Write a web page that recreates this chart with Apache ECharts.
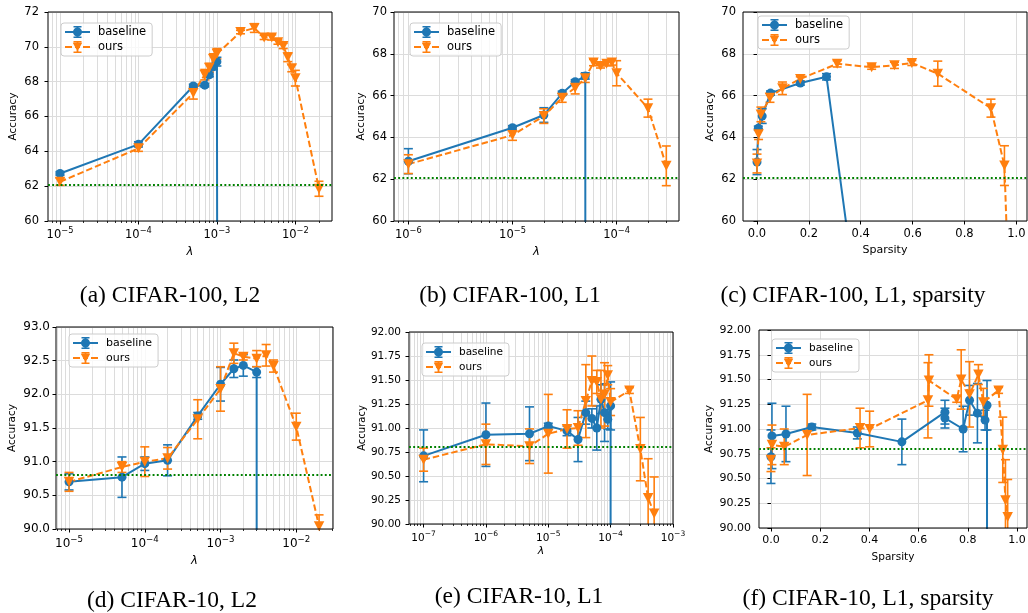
<!DOCTYPE html>
<html><head><meta charset="utf-8">
<script src="https://cdn.jsdelivr.net/npm/echarts@6/dist/echarts.min.js"></script>
<style>html,body{margin:0;padding:0;background:#fff}#chart{width:1028px;height:613px}</style>
</head><body><div id="chart"></div>
<script>
// ---------------- DATA ----------------
const seriesNames = ['baseline', 'ours'];
const captions = ['(a) CIFAR-100, L2', '(b) CIFAR-100, L1', '(c) CIFAR-100, L1, sparsity',
                  '(d) CIFAR-10, L2', '(e) CIFAR-10, L1', '(f) CIFAR-10, L1, sparsity'];
const chanceCifar100 = 62.07;
const chanceCifar10 = 90.80;

// (a) CIFAR-100, L2
const aLambdaBase = [1e-5, 1e-4, 5e-4, 7e-4, 8e-4, 9e-4, 1e-3, 1.05e-3];
const aAccBase    = [62.73, 64.40, 67.75, 67.80, 68.40, 68.85, 69.15, 1.0];
const aErrBase    = [0.10, 0.15, 0.10, 0.10, 0.12, 0.15, 0.25, 0];
const aLambdaOurs = [1e-5, 1e-4, 5e-4, 7e-4, 8e-4, 9e-4, 1e-3, 2e-3, 3e-3, 4e-3, 5e-3, 6e-3, 7e-3, 8e-3, 9e-3, 1e-2, 2e-2];
const aAccOurs    = [62.25, 64.17, 67.35, 68.40, 68.80, 69.30, 69.60, 70.85, 71.08, 70.54, 70.54, 70.27, 70.05, 69.40, 68.77, 68.20, 61.85];
const aErrOurs    = [0.20, 0.17, 0.35, 0.30, 0.25, 0.30, 0.30, 0.10, 0.25, 0.12, 0.15, 0.12, 0.15, 0.25, 0.20, 0.45, 0.43];
const aDecades    = [-5, -4, -3, -2];

// (b) CIFAR-100, L1
const bLambdaBase = [1e-6, 1e-5, 2e-5, 3e-5, 4e-5, 5e-5, 5.05e-5];
const bAccBase    = [62.86, 64.46, 65.07, 66.11, 66.66, 66.94, 1.0];
const bErrBase    = [0.60, 0.10, 0.35, 0.10, 0.10, 0.15, 0];
const bLambdaOurs = [1e-6, 1e-5, 2e-5, 3e-5, 4e-5, 5e-5, 6e-5, 7e-5, 8e-5, 9e-5, 1e-4, 2e-4, 3e-4];
const bAccOurs    = [62.72, 64.11, 65.02, 65.90, 66.38, 66.83, 67.58, 67.42, 67.52, 67.58, 67.07, 65.40, 62.64];
const bErrOurs    = [0.45, 0.25, 0.35, 0.22, 0.30, 0.20, 0.15, 0.10, 0.10, 0.12, 0.60, 0.43, 0.95];
const bDecades    = [-6, -5, -4];

// (c) CIFAR-100, L1, sparsity
const cSparsBase = [0.0, 0.005, 0.02, 0.052, 0.167, 0.268, 0.98];
const cAccBase   = [62.82, 64.44, 65.02, 66.12, 66.60, 66.90, 1.0];
const cErrBase   = [0.60, 0.10, 0.35, 0.10, 0.10, 0.15, 0];
const cSparsOurs = [0.0, 0.006, 0.015, 0.05, 0.098, 0.167, 0.309, 0.442, 0.530, 0.597, 0.697, 0.902, 0.954, 0.975];
const cAccOurs   = [62.75, 64.15, 65.10, 65.90, 66.35, 66.80, 67.52, 67.36, 67.45, 67.56, 67.05, 65.40, 62.65, 55.0];
const cErrOurs   = [0.45, 0.25, 0.35, 0.22, 0.30, 0.10, 0.15, 0.10, 0.15, 0.12, 0.60, 0.43, 0.95, 0];
const sparsTicks = [0.0, 0.2, 0.4, 0.6, 0.8, 1.0];

// (d) CIFAR-10, L2
const dLambdaBase = [1e-5, 5e-5, 1e-4, 2e-4, 5e-4, 1e-3, 1.5e-3, 2e-3, 3e-3, 3.05e-3];
const dAccBase    = [90.70, 90.77, 90.97, 91.02, 91.68, 92.15, 92.38, 92.43, 92.33, 10.0];
const dErrBase    = [0.12, 0.30, 0.10, 0.23, 0.05, 0.25, 0.13, 0.16, 0.08, 0];
const dLambdaOurs = [1e-5, 5e-5, 1e-4, 2e-4, 5e-4, 1e-3, 1.5e-3, 2e-3, 3e-3, 4e-3, 5e-3, 1e-2, 2e-2];
const dAccOurs    = [90.70, 90.92, 91.00, 91.05, 91.63, 92.08, 92.61, 92.56, 92.53, 92.58, 92.42, 91.52, 90.04];
const dErrOurs    = [0.14, 0.08, 0.22, 0.16, 0.29, 0.33, 0.15, 0.05, 0.12, 0.16, 0.09, 0.20, 0.17];
const dDecades    = [-5, -4, -3, -2];

// (e) CIFAR-10, L1
const eLambdaBase = [1e-7, 1e-6, 5e-6, 1e-5, 2e-5, 3e-5, 4e-5, 5e-5, 6e-5, 7e-5, 8e-5, 9e-5, 1e-4, 1.02e-4];
const eAccBase    = [90.71, 90.93, 90.94, 91.02, 90.97, 90.88, 91.16, 91.10, 91.00, 91.30, 91.16, 91.09, 91.23, 10.0];
const eErrBase    = [0.27, 0.33, 0.28, 0.03, 0.05, 0.23, 0.12, 0.10, 0.23, 0.15, 0.30, 0.10, 0.25, 0];
const eLambdaOurs = [1e-7, 1e-6, 5e-6, 1e-5, 2e-5, 3e-5, 4e-5, 5e-5, 6e-5, 7e-5, 8e-5, 9e-5, 1e-4, 2e-4, 3e-4, 4e-4, 5e-4];
const eAccOurs    = [90.67, 90.83, 90.81, 90.94, 90.99, 91.00, 91.28, 91.49, 91.48, 91.30, 91.35, 91.55, 91.27, 91.39, 90.78, 90.27, 90.11];
const eErrOurs    = [0.12, 0.21, 0.18, 0.41, 0.20, 0.18, 0.38, 0.26, 0.12, 0.30, 0.33, 0.10, 0.14, 0.03, 0.33, 0.41, 0.38];
const eDecades    = [-7, -6, -5, -4, -3];

// (f) CIFAR-10, L1, sparsity
const fSparsBase = [0.0, 0.004, 0.061, 0.166, 0.351, 0.532, 0.707, 0.707, 0.781, 0.807, 0.839, 0.870, 0.878, 0.879];
const fAccBase   = [90.72, 90.93, 90.95, 91.02, 90.96, 90.87, 91.17, 91.11, 91.00, 91.29, 91.16, 91.09, 91.24, 10.0];
const fErrBase   = [0.27, 0.33, 0.28, 0.03, 0.06, 0.23, 0.12, 0.10, 0.23, 0.15, 0.30, 0.10, 0.25, 0];
const fSparsOurs = [0.0, 0.004, 0.054, 0.147, 0.362, 0.401, 0.638, 0.642, 0.755, 0.773, 0.807, 0.843, 0.863, 0.925, 0.942, 0.953, 0.962];
const fAccOurs   = [90.69, 90.84, 90.82, 90.94, 91.01, 91.00, 91.29, 91.49, 91.30, 91.50, 91.35, 91.55, 91.27, 91.39, 90.79, 90.28, 90.11];
const fErrOurs   = [0.12, 0.20, 0.18, 0.41, 0.20, 0.18, 0.38, 0.26, 0.03, 0.30, 0.33, 0.10, 0.14, 0.03, 0.33, 0.41, 0.38];

// ---------------- STYLE / LAYOUT ----------------
const BLUE = '#1f77b4', ORANGE = '#ff7f0e', GREEN = '#008000', GRIDC = '#dcdcdc';
const FONT = 'DejaVu Sans';
const ICON_BASE = 'path://M0,51h250v18h-250z M116,0h18v120h-18z M85,0h80v15h-80z M85,105h80v15h-80z M80,60a45,45 0 1,1 90,0a45,45 0 1,1 -90,0z';
const ICON_OURS = 'path://M0,51h70v18h-70z M100,51h50v18h-50z M180,51h70v18h-70z M116,0h18v120h-18z M85,0h80v15h-80z M85,105h80v15h-80z M78,18h94l-47,86z';

const panels = [
  {log:true, grid:[48,12,284,209], x:[-5.153,-1.533], y:[60,72,2,0], chance:chanceCifar100, xName:'λ', xGap:25, yGap:29, ym:9,
   leg:[61,23], fs:{t:11.5, l:11.5, n:10.5}, cap:[170,296], dec:aDecades,
   base:[aLambdaBase,aAccBase,aErrBase], ours:[aLambdaOurs,aAccOurs,aErrOurs]},
  {log:true, grid:[394,12,285,209], x:[-6.138,-3.401], y:[60,70,2,0], chance:chanceCifar100, xName:'λ', xGap:25, yGap:27, ym:7,
   leg:[410,23], fs:{t:11.5, l:11.5, n:10.5}, cap:[510,296], dec:bDecades,
   base:[bLambdaBase,bAccBase,bErrBase], ours:[bLambdaOurs,bAccOurs,bErrOurs]},
  {log:false, grid:[743,12,284,209], x:[-0.054,1.041], y:[60,70,2,0], chance:chanceCifar100, xName:'Sparsity', xGap:24, yGap:27, ym:7,
   leg:[758,16], fs:{t:11.5, l:11.5, n:11}, cap:[853,296],
   base:[cSparsBase,cAccBase,cErrBase], ours:[cSparsOurs,cAccOurs,cErrOurs]},
  {log:true, grid:[56,327,277,202], x:[-5.172,-1.515], y:[90,93,0.5,1], chance:chanceCifar10, xName:'λ', xGap:26, yGap:38, ym:6,
   leg:[69,334], fs:{t:12, l:11, n:10.5}, cap:[172,601], dec:dDecades,
   base:[dLambdaBase,dAccBase,dErrBase], ours:[dLambdaOurs,dAccOurs,dErrOurs]},
  {log:true, grid:[409,332,264,192], x:[-7.234,-2.999], y:[90,92,0.25,2], chance:chanceCifar10, xName:'λ', xGap:22, yGap:42, ym:8,
   leg:[422,343], fs:{t:10.5, l:10.5, n:10}, cap:[519,597], dec:eDecades,
   base:[eLambdaBase,eAccBase,eErrBase], ours:[eLambdaOurs,eAccOurs,eErrOurs]},
  {log:false, grid:[759,330,268,198], x:[-0.0486,1.0405], y:[90,92,0.25,2], chance:chanceCifar10, xName:'Sparsity', xGap:24, yGap:44, ym:8,
   leg:[772,339], fs:{t:11, l:10.5, n:10.5}, cap:[868,599],
   base:[fSparsBase,fAccBase,fErrBase], ours:[fSparsOurs,fAccOurs,fErrOurs]}
];

function renderErr(params, api) {
  const x = api.value(0), y = api.value(1), e = api.value(2);
  const top = api.coord([x, y + e]), bot = api.coord([x, y - e]);
  const st = {stroke: api.visual('color'), lineWidth: 1.6};
  const hw = 4.5;
  return {type: 'group', children: [
    {type: 'line', shape: {x1: top[0], y1: top[1], x2: bot[0], y2: bot[1]}, style: st},
    {type: 'line', shape: {x1: top[0] - hw, y1: top[1], x2: top[0] + hw, y2: top[1]}, style: st},
    {type: 'line', shape: {x1: bot[0] - hw, y1: bot[1], x2: bot[0] + hw, y2: bot[1]}, style: st}
  ]};
}

const option = {
  animation: false,
  textStyle: {fontFamily: FONT},
  grid: [], xAxis: [], yAxis: [], series: [], legend: [], graphic: []
};

panels.forEach((p, gi) => {
  option.grid.push({left: p.grid[0], top: p.grid[1], width: p.grid[2], height: p.grid[3],
    show: true, borderColor: '#000', borderWidth: 1, backgroundColor: 'transparent', z: 5,
    outerBoundsMode: 'none', containLabel: false});
  const nameStyleX = {fontSize: p.log ? p.fs.n + 1 : p.fs.n, color: '#000', fontFamily: FONT, fontStyle: p.log ? 'italic' : 'normal'};
  let xMainIdx = option.xAxis.length;
  if (p.log) {
    const minors = [];
    for (let d = Math.floor(p.x[0]); d <= Math.ceil(p.x[1]); d++) {
      for (let k = 1; k <= 9; k++) {
        const v = d + Math.log10(k);
        if (v >= p.x[0] && v <= p.x[1]) minors.push(v);
      }
    }
    option.xAxis.push({type: 'value', gridIndex: gi, min: p.x[0], max: p.x[1],
      axisLine: {show: false},
      axisTick: {show: true, customValues: minors, length: 2, lineStyle: {color: '#000', width: 0.8}},
      axisLabel: {show: false},
      splitLine: {show: true, lineStyle: {color: GRIDC, width: 1}}});
    option.xAxis.push({type: 'value', gridIndex: gi, min: p.x[0], max: p.x[1], position: 'bottom',
      axisLine: {show: false},
      axisTick: {show: true, customValues: p.dec, length: 3.5, lineStyle: {color: '#000', width: 1}},
      axisLabel: {show: true, customValues: p.dec, margin: 6, color: '#000',
        formatter: v => '{b|10}{s|\u2212' + Math.abs(Math.round(v)) + '}',
        rich: {
          b: {fontSize: p.fs.t, lineHeight: 13, padding: [4, 0, 0, 0], fontFamily: FONT, color: '#000'},
          s: {fontSize: p.fs.t * 0.72, lineHeight: 9, verticalAlign: 'top', fontFamily: FONT, color: '#000'}
        }},
      splitLine: {show: false},
      name: p.xName, nameLocation: 'middle', nameGap: p.xGap, nameTextStyle: nameStyleX});
  } else {
    option.xAxis.push({type: 'value', gridIndex: gi, min: p.x[0], max: p.x[1],
      axisLine: {show: false},
      axisTick: {show: true, customValues: sparsTicks, length: 3.5, lineStyle: {color: '#000', width: 1}},
      axisLabel: {show: true, customValues: sparsTicks, margin: 7, color: '#000', fontSize: p.fs.t,
        formatter: v => v.toFixed(1)},
      splitLine: {show: true, lineStyle: {color: GRIDC, width: 1}},
      name: p.xName, nameLocation: 'middle', nameGap: p.xGap, nameTextStyle: nameStyleX});
  }
  const yIdx = option.yAxis.length;
  option.yAxis.push({type: 'value', gridIndex: gi, min: p.y[0], max: p.y[1], interval: p.y[2],
    axisLine: {show: false},
    axisTick: {show: true, length: 3.5, lineStyle: {color: '#000', width: 1}},
    axisLabel: {color: '#000', fontSize: p.fs.t, margin: p.ym, formatter: v => v.toFixed(p.y[3])},
    splitLine: {show: true, lineStyle: {color: GRIDC, width: 1}},
    name: 'Accuracy', nameLocation: 'middle', nameGap: p.yGap,
    nameTextStyle: {fontSize: p.fs.n, color: '#000', fontFamily: FONT}});

  const tx = p.log ? (v => Math.log10(v)) : (v => v);
  const mk = (xs, ys) => xs.map((x, i) => [tx(x), ys[i]]);
  const mkErr = (xs, ys, es) => xs.map((x, i) => [tx(x), ys[i], es[i]]).filter(r => r[2] > 0);

  [['baseline', p.base, BLUE], ['ours', p.ours, ORANGE]].forEach(([nm, d, col]) => {
    option.series.push({type: 'custom', name: nm, xAxisIndex: xMainIdx, yAxisIndex: yIdx,
      renderItem: renderErr, data: mkErr(d[0], d[1], d[2]), encode: {x: 0, y: 1},
      itemStyle: {color: col}, clip: true, silent: true});
    const s = {type: 'line', name: nm, xAxisIndex: xMainIdx, yAxisIndex: yIdx,
      data: mk(d[0], d[1]), clip: true, silent: true,
      symbol: nm === 'baseline' ? 'circle' : 'triangle',
      symbolRotate: nm === 'baseline' ? 0 : 180,
      symbolSize: nm === 'baseline' ? 9 : [10.5, 10],
      showAllSymbol: true,
      lineStyle: {color: col, width: 2, type: nm === 'baseline' ? 'solid' : [6.5, 3]},
      itemStyle: {color: col, borderWidth: 0}};
    if (nm === 'ours') {
      s.markLine = {silent: true, symbol: 'none', label: {show: false}, animation: false,
        lineStyle: {color: GREEN, width: 1.9, type: [1.9, 2.3]}, data: [{yAxis: p.chance}]};
    }
    option.series.push(s);
  });

  option.legend.push({left: p.leg[0], top: p.leg[1], orient: 'vertical',
    itemWidth: 25, itemHeight: 12, itemGap: 3, padding: [3, 6, 3, 4],
    backgroundColor: 'rgba(255,255,255,0.8)', borderColor: '#cccccc', borderWidth: 1, borderRadius: 3,
    itemStyle: {borderWidth: 0},
    formatter: n => '{t|' + n + '}',
    textStyle: {color: '#000', fontFamily: FONT, fontSize: p.fs.l,
      rich: {t: {fontSize: p.fs.l, fontFamily: FONT, color: '#000', lineHeight: 14, padding: [0, 0, 0, 3]}}},
    data: [{name: seriesNames[0], icon: ICON_BASE}, {name: seriesNames[1], icon: ICON_OURS}]});

  option.graphic.push({type: 'text', x: p.cap[0], y: p.cap[1],
    style: {text: captions[gi], fontSize: 23.5, fontFamily: 'Liberation Serif', fill: '#000',
      align: 'center', verticalAlign: 'middle', textAlign: 'center', textVerticalAlign: 'middle'}});
});

const chart = echarts.init(document.getElementById('chart'), null, {renderer: 'canvas'});
chart.setOption(option);
</script></body></html>
